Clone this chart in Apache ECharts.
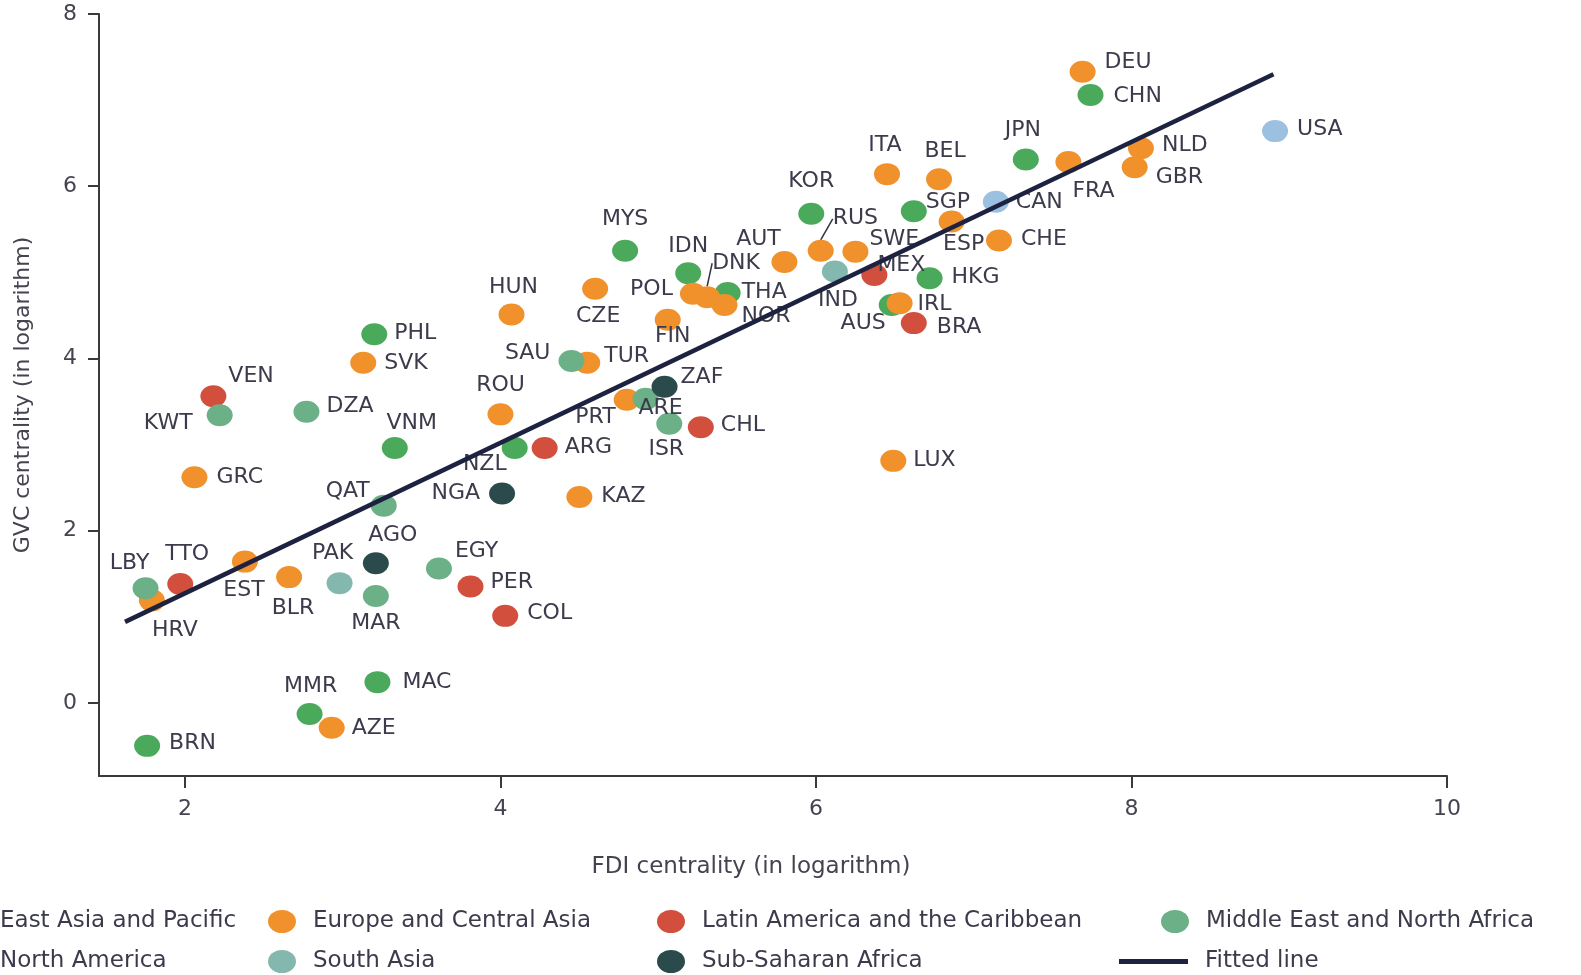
<!DOCTYPE html>
<html>
<head>
<meta charset="utf-8">
<script src="https://cdn.jsdelivr.net/npm/echarts@6/dist/echarts.min.js"></script>
<style>
html,body{margin:0;padding:0;background:#ffffff;}
#chart{width:1581px;height:975px;}
</style>
</head>
<body>
<div id="chart"></div>
<script>
// ---------- data ----------
const regions = ['East Asia and Pacific', 'Europe and Central Asia', 'Latin America and the Caribbean',
  'Middle East and North Africa', 'North America', 'South Asia', 'Sub-Saharan Africa'];
const fittedLineName = 'Fitted line';

const countries = ['CHN','JPN','KOR','SGP','HKG','AUS','MYS','IDN','THA','PHL','VNM','NZL','MMR','MAC','BRN',
  'DEU','FRA','NLD','GBR','CHE','ITA','BEL','ESP','RUS','SWE','AUT','IRL','POL','DNK','NOR','CZE','FIN','HUN',
  'SVK','TUR','PRT','ROU','KAZ','LUX','GRC','HRV','EST','BLR','AZE',
  'MEX','BRA','CHL','ARG','VEN','TTO','PER','COL',
  'SAU','ARE','ISR','KWT','DZA','QAT','LBY','EGY','MAR',
  'USA','CAN',
  'IND','PAK',
  'ZAF','NGA','AGO'];
const fdiCentrality = [7.74,7.33,5.97,6.62,6.72,6.48,4.79,5.19,5.44,3.20,3.33,4.09,2.79,3.22,1.76,
  7.69,7.60,8.06,8.02,7.16,6.45,6.78,6.86,6.03,6.25,5.80,6.53,5.22,5.31,5.42,4.60,5.06,4.07,
  3.13,4.55,4.80,4.00,4.50,6.49,2.06,1.79,2.38,2.66,2.93,
  6.37,6.62,5.27,4.28,2.18,1.97,3.81,4.03,
  4.45,4.92,5.07,2.22,2.77,3.26,1.75,3.61,3.21,
  8.91,7.14,
  6.12,2.98,
  5.04,4.01,3.21];
const gvcCentrality = [7.06,6.31,5.68,5.71,4.93,4.62,5.25,4.99,4.76,4.28,2.96,2.96,-0.13,0.24,-0.50,
  7.33,6.28,6.44,6.22,5.37,6.14,6.08,5.59,5.25,5.24,5.12,4.64,4.75,4.71,4.62,4.81,4.45,4.51,
  3.95,3.95,3.52,3.35,2.39,2.81,2.62,1.19,1.64,1.46,-0.29,
  4.97,4.41,3.20,2.96,3.56,1.38,1.35,1.01,
  3.97,3.53,3.24,3.34,3.38,2.29,1.33,1.56,1.24,
  6.64,5.82,
  5.01,1.39,
  3.67,2.43,1.62];
const regionOf = [0,0,0,0,0,0,0,0,0,0,0,0,0,0,0,
  1,1,1,1,1,1,1,1,1,1,1,1,1,1,1,1,1,1,
  1,1,1,1,1,1,1,1,1,1,1,
  2,2,2,2,2,2,2,2,
  3,3,3,3,3,3,3,3,3,
  4,4,
  5,5,
  6,6,6];
const fitLineX = [1.62, 8.90];
const fitLineY = [0.94, 7.30];
const xTicks = [2, 4, 6, 8, 10];
const yTicks = [0, 2, 4, 6, 8];

// ---------- label placement (layout, px from dot centre to label centre) ----------
const labelPlace = {
  CHN:[50,1], JPN:[-3,-29], KOR:[0,-32], SGP:[39,-9], HKG:[49,-1], AUS:[-33,18], MYS:[0,-31], IDN:[0,-27],
  THA:[41,-1], PHL:[47,-1], VNM:[17,-25], NZL:[-35,16], MMR:[1,-28], MAC:[52,0], BRN:[49,-3],
  DEU:[49,-9], FRA:[31,29], NLD:[48,-3], GBR:[48,10], CHE:[49,-1], ITA:[-2,-29], BEL:[6,-28], ESP:[12,23],
  RUS:[39,-32], SWE:[41,-12], AUT:[-26,-23], IRL:[45,1], POL:[-47,-5], DNK:[32,-34], NOR:[44,11], CZE:[3,28],
  FIN:[5,17], HUN:[2,-27], SVK:[48,1], TUR:[44,-6], PRT:[-38,18], ROU:[0,-29], KAZ:[49,-1], LUX:[47,-1],
  GRC:[49,0], HRV:[23,30], EST:[-1,29], BLR:[4,31], AZE:[47,0],
  MEX:[27,-10], BRA:[50,4], CHL:[47,-2], ARG:[47,-1], VEN:[42,-20], TTO:[7,-30], PER:[47,-4], COL:[49,-3],
  SAU:[-48,-8], ARE:[15,9], ISR:[-3,25], KWT:[-54,8], DZA:[47,-6], QAT:[-41,-14], LBY:[-16,-25], EGY:[43,-17], MAR:[0,27],
  USA:[49,-2], CAN:[47,1], IND:[3,29], PAK:[-7,-30], ZAF:[43,-10], NGA:[-49,0], AGO:[17,-28]
};
const leaderLabels = ['RUS', 'DNK'];

const colors = ['#4BA95B', '#F0912B', '#D24F3E', '#6CB088', '#9CC0E0', '#84B8AE', '#2A4A4B'];
const lineColor = '#1E2241';
const textColor = '#3b3b4c';
const FONT = 'DejaVu Sans';
const ellipse = 'path://M50,0A50,50,0,1,1,50,100A50,50,0,1,1,50,0Z';
const legendEllipse = 'path://M0,0L0,0M520,230L520,230M120,115A140,115,0,1,1,400,115A140,115,0,1,1,120,115Z';
const legendLine = 'path://M0,0L690,0L690,50L0,50ZM810,0L810,0';

function labelFor(code) {
  const p = labelPlace[code] || [45, 0];
  const half = 27;
  let align = 'center', ox = p[0];
  if (p[0] >= 30) { align = 'left'; ox = p[0] - half; }
  else if (p[0] <= -30) { align = 'right'; ox = p[0] + half; }
  return { show: true, position: 'inside', align: align, verticalAlign: 'middle', offset: [ox, p[1]] };
}

const series = regions.map(function (rname, r) {
  const data = [];
  countries.forEach(function (c, i) {
    if (regionOf[i] === r) {
      const item = { name: c, value: [fdiCentrality[i], gvcCentrality[i]], label: labelFor(c) };
      if (leaderLabels.indexOf(c) >= 0) {
        item.labelLine = { show: true, lineStyle: { color: '#333344', width: 1.5 } };
      }
      data.push(item);
    }
  });
  return {
    name: rname, type: 'scatter', z: 2, data: data,
    symbol: ellipse, symbolSize: [26, 22], symbolKeepAspect: false,
    itemStyle: { color: colors[r], opacity: 1 },
    label: { show: true, formatter: '{b}', color: textColor, fontFamily: FONT, fontSize: 22 },
    labelLine: { show: false },
    emphasis: { disabled: true }
  };
});
series.push({
  name: fittedLineName, type: 'line', z: 3, symbol: 'none', silent: true,
  data: fitLineX.map(function (x, i) { return [x, fitLineY[i]]; }),
  color: lineColor, itemStyle: { color: lineColor },
  lineStyle: { color: lineColor, width: 4.5 }
});

function legendItem(name, icon, left, top, w, h) {
  return {
    data: [{ name: name, icon: icon }], left: left, top: top, padding: 0,
    itemWidth: w, itemHeight: h, selectedMode: false,
    itemStyle: { borderWidth: 0 },
    textStyle: { fontFamily: FONT, fontSize: 23, color: textColor }
  };
}
const row1 = 910, row2 = 950;
const legends = [
  legendItem(regions[0], legendEllipse, -57, row1, 52, 23),
  legendItem(regions[1], legendEllipse, 256, row1, 52, 23),
  legendItem(regions[2], legendEllipse, 645, row1, 52, 23),
  legendItem(regions[3], legendEllipse, 1149, row1, 52, 23),
  legendItem(regions[4], legendEllipse, -57, row2, 52, 23),
  legendItem(regions[5], legendEllipse, 256, row2, 52, 23),
  legendItem(regions[6], legendEllipse, 645, row2, 52, 23),
  legendItem(fittedLineName, legendLine, 1119, row2, 81, 5)
];

const axisLineStyle = { show: true, onZero: false, lineStyle: { color: '#3a3a3a', width: 2 } };
const option = {
  backgroundColor: '#ffffff',
  animation: false,
  grid: { left: 99, right: 134, top: 14, bottom: 199, containLabel: false },
  legend: legends,
  xAxis: {
    type: 'value', min: 1.455, max: 10,
    name: 'FDI centrality (in logarithm)', nameLocation: 'middle', nameGap: 80,
    nameTextStyle: { fontFamily: FONT, fontSize: 23, color: '#444450', padding: [0, 44, 0, 0] },
    axisLine: axisLineStyle,
    axisTick: { show: true, length: 12, customValues: xTicks, lineStyle: { color: '#3a3a3a', width: 2 } },
    axisLabel: { customValues: xTicks, margin: 22, fontFamily: FONT, fontSize: 22, color: '#444450' },
    splitLine: { show: false }
  },
  yAxis: {
    type: 'value', min: -0.85, max: 8,
    name: 'GVC centrality (in logarithm)', nameLocation: 'middle', nameGap: 65,
    nameTextStyle: { fontFamily: FONT, fontSize: 22, color: '#444450' },
    axisLine: axisLineStyle,
    axisTick: { show: true, length: 11, customValues: yTicks, lineStyle: { color: '#3a3a3a', width: 2 } },
    axisLabel: { customValues: yTicks, margin: 22, fontFamily: FONT, fontSize: 22, color: '#444450' },
    splitLine: { show: false }
  },
  series: series
};

const chart = echarts.init(document.getElementById('chart'), null, { renderer: 'canvas' });
chart.setOption(option);
</script>
</body>
</html>
